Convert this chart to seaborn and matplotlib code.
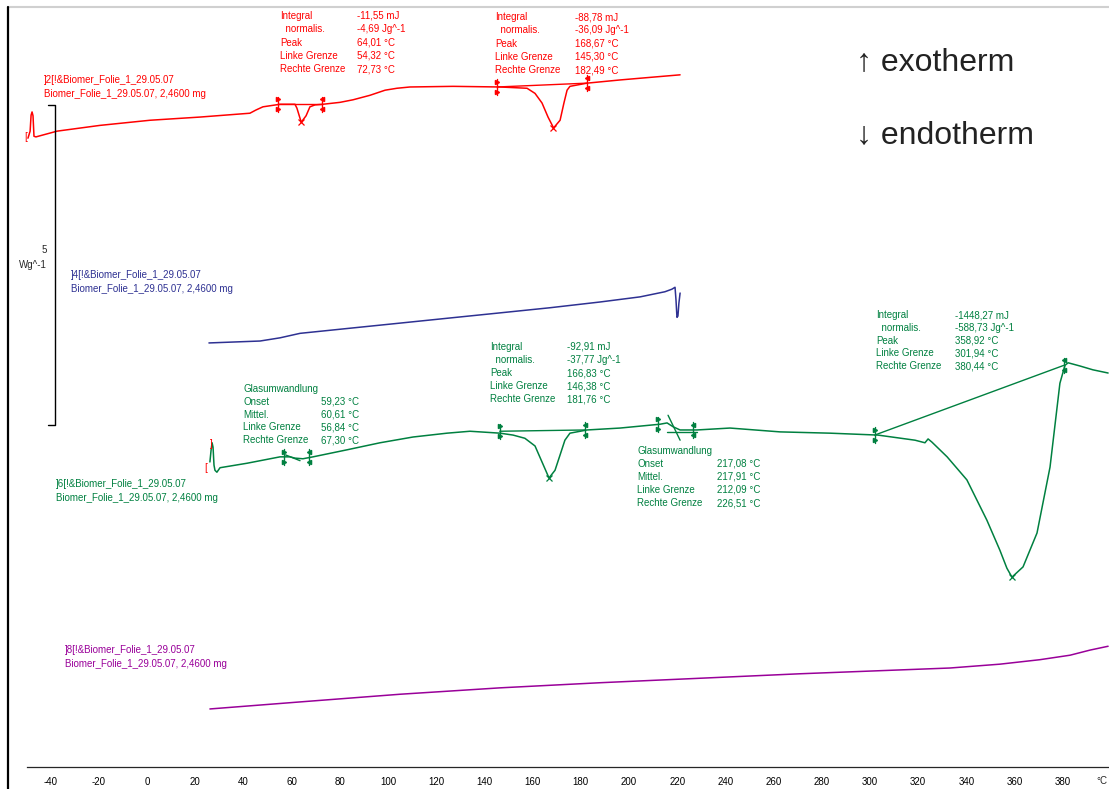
import matplotlib
matplotlib.use("Agg")
import matplotlib.pyplot as plt
from matplotlib.lines import Line2D
import pandas as pd
import seaborn as sns

W, H = 1109, 789

# Kurven: Temperatur (°C) und Wärmestrom (Wg^-1, gestapelt)
red_T = [-49.4, -48.5, -48.1, -47.7, -47.3, -46.9, -46.1, -37.3, -19.5, 1.2, 22.0, 42.7, 45.2, 48.1,
         55.2, 61.4, 62.2, 63.5, 64.0, 66.0, 67.6, 69.7, 73.0, 80.1, 85.5, 92.5, 98.8, 103.7, 109.1,
         127.0, 146.5, 157.7, 161.0, 163.9, 166.4, 168.7, 171.4, 173.0, 174.3, 175.5, 182.6, 196.3,
         208.7, 221.2]
red_hf = [9.78, 9.89, 10.14, 10.19, 10.13, 9.81, 9.80, 9.89, 9.98, 10.06, 10.11, 10.17, 10.22, 10.27,
          10.31, 10.31, 10.25, 10.09, 10.03, 10.13, 10.27, 10.30, 10.31, 10.34, 10.38, 10.45, 10.53,
          10.56, 10.58, 10.59, 10.58, 10.56, 10.48, 10.33, 10.11, 9.94, 10.06, 10.33, 10.53, 10.59,
          10.64, 10.69, 10.73, 10.77]

blue_T = [25.7, 46.9, 55.2, 63.5, 84.2, 105.0, 125.7, 146.5, 167.2, 188.0, 204.6, 214.9, 217.8,
          219.1, 219.5, 219.9, 220.3, 220.7, 221.2]
blue_hf = [6.58, 6.61, 6.66, 6.73, 6.81, 6.89, 6.97, 7.05, 7.13, 7.22, 7.30, 7.38, 7.42, 7.45,
           7.25, 6.98, 7.00, 7.20, 7.36]

green_T = [26.1, 26.6, 27.0, 27.4, 27.8, 28.2, 29.0, 30.3, 41.5, 55.2, 59.3, 61.4, 64.7, 68.9, 83.0,
           96.7, 110.4, 124.5, 134.0, 146.5, 151.9, 156.8, 161.0, 163.9, 166.8, 169.3, 171.4, 173.4,
           175.5, 182.6, 196.3, 212.9, 215.8, 218.3, 221.2, 228.2, 241.9, 262.7, 283.4, 303.3, 318.7,
           322.8, 324.1, 325.7, 332.0, 340.2, 348.5, 353.9, 356.8, 358.9, 363.5, 369.3, 374.7, 378.8,
           380.9, 382.2, 387.1, 392.5, 398.8]
green_hf = [4.72, 4.91, 5.02, 4.95, 4.67, 4.59, 4.56, 4.63, 4.70, 4.80, 4.80, 4.78, 4.77, 4.80, 4.91,
            5.02, 5.11, 5.17, 5.20, 5.17, 5.14, 5.09, 4.97, 4.72, 4.47, 4.59, 4.83, 5.06, 5.17, 5.22,
            5.25, 5.31, 5.33, 5.27, 5.22, 5.22, 5.25, 5.19, 5.17, 5.14, 5.06, 5.02, 5.08, 5.03, 4.80,
            4.44, 3.81, 3.34, 3.06, 2.92, 3.08, 3.61, 4.64, 5.95, 6.23, 6.27, 6.22, 6.16, 6.11]

purple_T = [26.1, 63.5, 105.0, 146.5, 188.0, 229.5, 271.0, 312.4, 333.2, 353.9, 370.5, 383.0, 391.3, 398.8]
purple_hf = [0.86, 0.97, 1.09, 1.19, 1.27, 1.34, 1.41, 1.47, 1.50, 1.56, 1.63, 1.70, 1.78, 1.84]

curve_names = ["]2", "]4", "]6", "]8"]
colors = {"]2": "#ff0000", "]4": "#2e3192", "]6": "#008040", "]8": "#990099"}

# Auswertungen: Grenzen (T, Wärmestrom) und Peaks
red_limits = [(54.32, 10.31, ">"), (72.73, 10.31, "<"), (145.30, 10.58, ">"), (182.49, 10.64, "<")]
red_peaks = [(64.01, 10.03), (168.67, 9.94)]
green_limits = [(146.38, 5.20, ">"), (181.76, 5.22, "<"), (301.94, 5.14, ">"), (380.44, 6.23, "<"),
                (56.84, 4.80, ">"), (67.30, 4.80, "<"), (212.09, 5.31, ">"), (226.51, 5.22, "<")]
green_peaks = [(166.83, 4.47), (358.92, 2.92)]
red_baselines = [([54.32, 72.73], [10.31, 10.31]), ([145.30, 182.49], [10.58, 10.64])]
green_baselines = [([146.38, 181.76], [5.20, 5.22]), ([301.94, 380.44], [5.14, 6.23]),
                   ([215.8, 228.2], [5.19, 5.19]), ([216.2, 221.2], [5.45, 5.06]),
                   ([57.5, 63.5], [4.83, 4.74])]

sample = "Biomer_Folie_1_29.05.07"
labels = {"]2": "]2[!&" + sample, "]4": "]4[!&" + sample, "]6": "]6[!&" + sample, "]8": "]8[!&" + sample}

ann_red1 = [("Integral", "-11,55 mJ"), ("  normalis.", "-4,69 Jg^-1"), ("Peak", "64,01 °C"),
            ("Linke Grenze", "54,32 °C"), ("Rechte Grenze", "72,73 °C")]
ann_red2 = [("Integral", "-88,78 mJ"), ("  normalis.", "-36,09 Jg^-1"), ("Peak", "168,67 °C"),
            ("Linke Grenze", "145,30 °C"), ("Rechte Grenze", "182,49 °C")]
ann_green1 = [("Integral", "-92,91 mJ"), ("  normalis.", "-37,77 Jg^-1"), ("Peak", "166,83 °C"),
              ("Linke Grenze", "146,38 °C"), ("Rechte Grenze", "181,76 °C")]
ann_green2 = [("Integral", "-1448,27 mJ"), ("  normalis.", "-588,73 Jg^-1"), ("Peak", "358,92 °C"),
              ("Linke Grenze", "301,94 °C"), ("Rechte Grenze", "380,44 °C")]
ann_tg1 = [("Glasumwandlung", ""), ("Onset", "59,23 °C"), ("Mittel.", "60,61 °C"),
           ("Linke Grenze", "56,84 °C"), ("Rechte Grenze", "67,30 °C")]
ann_tg2 = [("Glasumwandlung", ""), ("Onset", "217,08 °C"), ("Mittel.", "217,91 °C"),
           ("Linke Grenze", "212,09 °C"), ("Rechte Grenze", "226,51 °C")]

df = pd.concat([
    pd.DataFrame({"T": red_T, "hf": red_hf, "kurve": "]2"}),
    pd.DataFrame({"T": blue_T, "hf": blue_hf, "kurve": "]4"}),
    pd.DataFrame({"T": green_T, "hf": green_hf, "kurve": "]6"}),
    pd.DataFrame({"T": purple_T, "hf": purple_hf, "kurve": "]8"}),
], ignore_index=True)

sns.set_style("white")
plt.rcParams["font.family"] = ["Liberation Sans", "DejaVu Sans"]
plt.rcParams["axes.unicode_minus"] = False

fig = plt.figure(figsize=(W / 100, H / 100), dpi=100)
ax = fig.add_axes([8 / W, 22 / H, 1101 / W, 760 / H])

sns.lineplot(data=df, x="T", y="hf", hue="kurve", palette=colors, sort=False, estimator=None,
             legend=False, linewidth=1.1, ax=ax)

ax.set_xlim(-57.68, 399.17)
ax.set_ylim(-0.047, 11.83)
ax.set_xlabel("")
ax.set_ylabel("")
ax.set_yticks([])
ax.set_xticks(range(-40, 381, 20))
ax.set_xticks(range(-50, 400, 10), minor=True)
ax.tick_params(axis="x", which="major", direction="inout", length=7, width=0.8, labelsize=7,
               pad=4, colors="black")
ax.tick_params(axis="x", which="minor", direction="in", length=3, width=0.8)
for s in ["left", "right"]:
    ax.spines[s].set_visible(False)
ax.spines["top"].set_color("#d0d0d0")
ax.spines["top"].set_linewidth(1.5)
ax.spines["bottom"].set_linewidth(0.9)
ax.spines["bottom"].set_bounds(-50, 399.17)
fig.add_artist(Line2D([8 / W, 8 / W], [0, 1 - 7 / H], color="black", lw=1.6))

# Auswerte-Markierungen
def draw_marks(limits, peaks, baselines, color):
    for xs, ys in baselines:
        ax.plot(xs, ys, color=color, lw=1)
    for t, y, m in limits:
        ax.plot([t, t], [y - 0.12, y + 0.12], color=color, lw=1)
        ax.plot([t, t], [y - 0.08, y + 0.08], ls="none", marker=m, ms=3, color=color)
    for t, y in peaks:
        ax.plot([t], [y], ls="none", marker="x", ms=5, mew=0.9, color=color)

draw_marks(red_limits, red_peaks, red_baselines, colors["]2"])
draw_marks(green_limits, green_peaks, green_baselines, colors["]6"])

# Skalenbalken 5 Wg^-1
ax.plot([-41.1, -38.2, -38.2, -41.1], [10.3, 10.3, 5.3, 5.3], color="black", lw=1, clip_on=False)
fig.text(47 / W, 1 - 250 / H, "5", fontsize=7, ha="right", va="center")
fig.text(47 / W, 1 - 265 / H, "Wg^-1", fontsize=7, ha="right", va="center")

# Klammern am Kurvenbeginn
fig.text(24 / W, 1 - 137 / H, "[", fontsize=7, color="#ff0000", va="center")
fig.text(204 / W, 1 - 468 / H, "[", fontsize=7, color="#ff0000", va="center")
fig.text(210 / W, 1 - 444 / H, "]", fontsize=7, color="#ff0000", va="center")

# Kurvenbeschriftungen
label_pos = {"]2": (44, 80), "]4": (71, 275), "]6": (56, 484), "]8": (65, 650)}
for k in curve_names:
    x, y = label_pos[k]
    fig.text(x / W, 1 - y / H, labels[k], fontsize=7, color=colors[k], va="center")
    fig.text(x / W, 1 - (y + 14) / H, sample + ", 2,4600 mg", fontsize=7, color=colors[k], va="center")

def table(rows, x0, y0, x1, dy, color):
    for i, (lab, val) in enumerate(rows):
        fig.text(x0 / W, 1 - (y0 + i * dy) / H, lab, fontsize=7, color=color, va="center")
        fig.text(x1 / W, 1 - (y0 + i * dy) / H, val, fontsize=7, color=color, va="center")

table(ann_red1, 280, 16, 357, 13.3, colors["]2"])
table(ann_red2, 495, 17, 575, 13.3, colors["]2"])
table(ann_green1, 490, 347, 567, 13, colors["]6"])
table(ann_green2, 876, 315, 955, 12.8, colors["]6"])
table(ann_tg1, 243, 389, 321, 12.8, colors["]6"])
table(ann_tg2, 637, 451, 717, 13, colors["]6"])

fig.text(1096 / W, 1 - 781 / H, "°C", fontsize=7, va="center")

fig.text(856 / W, 1 - 62 / H, "↑ exotherm", fontsize=23, color="#222222", va="center")
fig.text(856 / W, 1 - 135 / H, "↓ endotherm", fontsize=23, color="#222222", va="center")

fig.savefig("out.png", dpi=100)
